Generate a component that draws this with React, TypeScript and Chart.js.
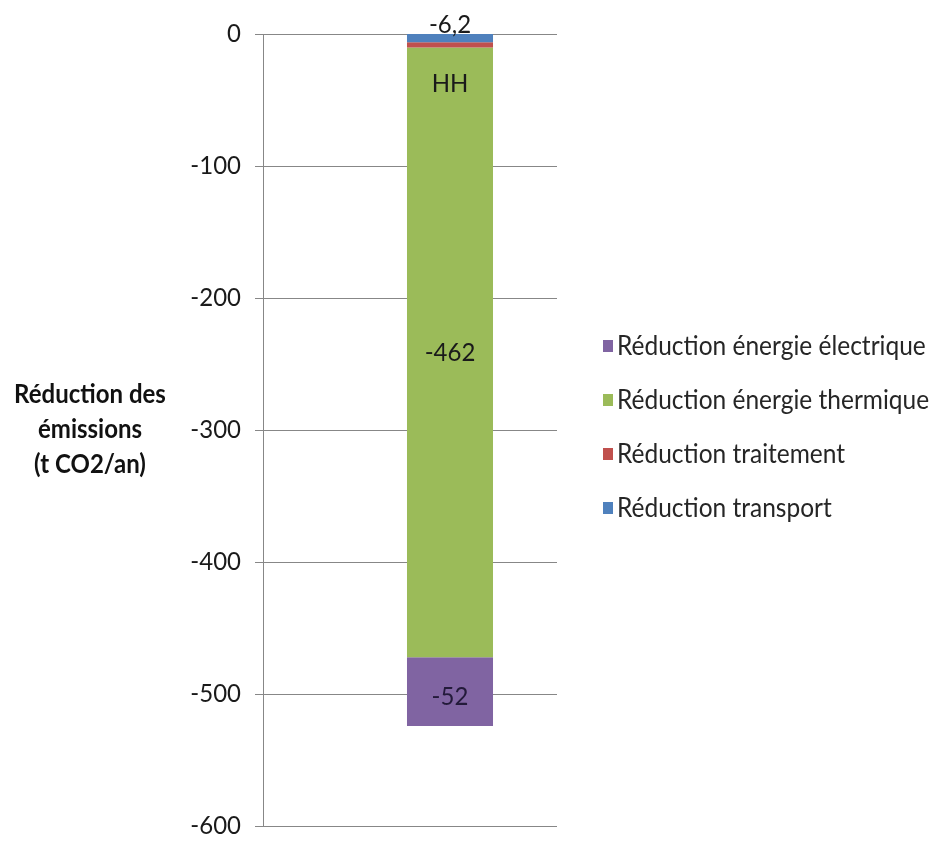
import React, { useEffect, useRef } from 'react';
import { Chart, registerables } from 'chart.js';

Chart.register(...registerables);

// ---- data ----
const categories = ['HH'];
const transport = [-6.2];
const traitement = [-4];
const thermique = [-462];
const electrique = [-52];
const seriesLabels = [
  'Réduction transport',
  'Réduction traitement',
  'Réduction énergie thermique',
  'Réduction énergie électrique',
];
const seriesColors = ['#4F81BD', '#C0504D', '#9BBB59', '#8064A2'];
const yMin = -600;
const yMax = 0;
const yStep = 100;
const axisTitleLines = ['Réduction des', 'émissions', '(t CO2/an)'];

// ---- style ----
const FONT = 'Lato, "Open Sans", sans-serif';
const SY = 1.08;
const GRID_W = 294;
const GRID_COLOR = '#878787';

const fmt = (v: number) => String(v).replace('.', ',');

function drawText(
  ctx: CanvasRenderingContext2D,
  text: string,
  x: number,
  y: number,
  font: string,
  color: string,
  align: CanvasTextAlign
) {
  ctx.save();
  ctx.translate(x, y);
  ctx.scale(1, SY);
  ctx.font = font;
  ctx.fillStyle = color;
  ctx.textAlign = align;
  ctx.textBaseline = 'middle';
  ctx.fillText(text, 0, 0);
  ctx.restore();
}

const decorPlugin = {
  id: 'decor',
  beforeDatasetsDraw(chart: any) {
    const ctx: CanvasRenderingContext2D = chart.ctx;
    const y = chart.scales.y;
    const left = chart.chartArea.left;
    ctx.save();
    ctx.strokeStyle = GRID_COLOR;
    ctx.lineWidth = 1;
    for (const t of y.ticks) {
      const py = Math.round(y.getPixelForValue(t.value)) + 0.5;
      ctx.beginPath();
      ctx.moveTo(left - 8, py);
      ctx.lineTo(left + GRID_W, py);
      ctx.stroke();
      drawText(ctx, fmt(t.value), left - 22, py - 1, `24px ${FONT}`, '#1a1a1a', 'right');
    }
    const ax = Math.round(left) + 0.5;
    ctx.beginPath();
    ctx.moveTo(ax, Math.round(y.getPixelForValue(yMax)));
    ctx.lineTo(ax, Math.round(y.getPixelForValue(yMin)) + 1);
    ctx.stroke();
    ctx.restore();
  },
  afterDatasetsDraw(chart: any) {
    const ctx: CanvasRenderingContext2D = chart.ctx;
    const y = chart.scales.y;
    const font = `24px ${FONT}`;
    const bt = chart.getDatasetMeta(0).data[0];
    drawText(ctx, fmt(transport[0]), bt.x, y.getPixelForValue(0) - 9, font, '#1a1a1a', 'center');
    const btr = chart.getDatasetMeta(1).data[0];
    drawText(ctx, categories[0], btr.x, btr.y + 36, font, '#1a1a1a', 'center');
    const bth = chart.getDatasetMeta(2).data[0];
    drawText(ctx, fmt(thermique[0]), bth.x, (bth.y + bth.base) / 2, font, '#1a1a1a', 'center');
    const bel = chart.getDatasetMeta(3).data[0];
    drawText(ctx, fmt(electrique[0]), bel.x, (bel.y + bel.base) / 2 + 5, font, '#231a3a', 'center');
  },
  afterDraw(chart: any) {
    const ctx: CanvasRenderingContext2D = chart.ctx;
    const ca = chart.chartArea;
    const midY = (ca.top + ca.bottom) / 2;
    // legend (reverse order)
    const order = [3, 2, 1, 0];
    const spacing = 54;
    order.forEach((di, i) => {
      const cy = midY - 3 + (i - 1.5) * spacing;
      ctx.fillStyle = seriesColors[di];
      ctx.fillRect(603, cy - 6, 10, 12);
      drawText(ctx, seriesLabels[di], 617, cy, `24.5px ${FONT}`, '#262626', 'left');
    });
    // axis title
    axisTitleLines.forEach((line, i) => {
      drawText(ctx, line, 90, midY + (i - 1) * 35, `bold 24px ${FONT}`, '#111', 'center');
    });
  },
};

export default function App() {
  const ref = useRef<HTMLCanvasElement | null>(null);
  useEffect(() => {
    if (!ref.current) return;
    const chart = new Chart(ref.current, {
      type: 'bar',
      data: {
        labels: categories,
        datasets: [
          { label: seriesLabels[0], data: transport, backgroundColor: seriesColors[0] },
          { label: seriesLabels[1], data: traitement, backgroundColor: seriesColors[1] },
          { label: seriesLabels[2], data: thermique, backgroundColor: seriesColors[2] },
          { label: seriesLabels[3], data: electrique, backgroundColor: seriesColors[3] },
        ],
      },
      options: {
        responsive: false,
        animation: false,
        layout: { padding: { left: 0, right: 304, top: 34, bottom: 16 } },
        datasets: { bar: { barPercentage: 0.23, categoryPercentage: 1, borderWidth: 0 } },
        plugins: { legend: { display: false }, tooltip: { enabled: false } },
        scales: {
          x: { type: 'category', stacked: true, display: false },
          y: {
            stacked: true,
            min: yMin,
            max: yMax,
            ticks: { stepSize: yStep, display: false },
            grid: { display: false },
            border: { display: false },
            afterFit: (s: any) => {
              s.width = 263;
            },
          },
        },
      },
      plugins: [decorPlugin],
    } as any);
    return () => chart.destroy();
  }, []);
  return (
    <div style={{ position: 'absolute', left: 0, top: 0, width: 941, height: 842, background: '#fff' }}>
      <canvas ref={ref} width={941} height={842} />
    </div>
  );
}
